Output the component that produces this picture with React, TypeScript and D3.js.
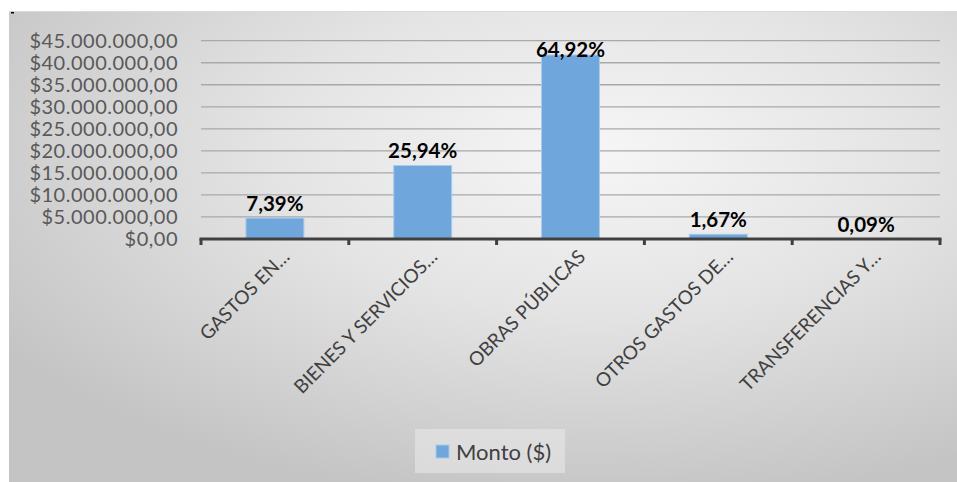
import React from "react";
import * as d3 from "d3";

const categories = [
  "GASTOS EN…",
  "BIENES Y SERVICIOS…",
  "OBRAS PÚBLICAS",
  "OTROS GASTOS DE…",
  "TRANSFERENCIAS Y…",
];
const values = [4750000, 16680000, 41760000, 1070000, 60000];
const percentLabels = ["7,39%", "25,94%", "64,92%", "1,67%", "0,09%"];
const yTicks = [0, 5e6, 10e6, 15e6, 20e6, 25e6, 30e6, 35e6, 40e6, 45e6];
const seriesName = "Monto ($)";

const W = 957;
const H = 482;
const FONT = "Lato, Carlito, Calibri, sans-serif";

function fmtMoney(v: number): string {
  const s = Math.round(v).toString().replace(/\B(?=(\d{3})+(?!\d))/g, ".");
  return "$" + s + ",00";
}

export default function App() {
  const plotLeft = 201;
  const plotRight = 940;
  const plotTop = 40.7;
  const plotBottom = 239;

  const x = d3.scaleBand<string>().domain(categories).range([plotLeft, plotRight]).paddingInner(0).paddingOuter(0);
  const y = d3.scaleLinear().domain([0, 45e6]).range([plotBottom, plotTop]);
  const bw = x.bandwidth() * 0.392;

  return (
    <svg
      width={W}
      height={H}
      style={{ position: "absolute", left: 0, top: 0, display: "block" }}
    >
      <defs>
        <radialGradient id="bg" cx="62%" cy="30%" r="75%" fx="62%" fy="30%">
          <stop offset="0%" stopColor="#f6f6f6" />
          <stop offset="45%" stopColor="#e4e4e4" />
          <stop offset="100%" stopColor="#c4c4c4" />
        </radialGradient>
      </defs>
      <rect x={0} y={0} width={W} height={H} fill="#ffffff" />
      <rect x={9} y={11} width={W - 9} height={H - 11} fill="url(#bg)" />
      <line x1={9} y1={11.5} x2={W} y2={11.5} stroke="#d9d9d9" strokeWidth={1} />
      <rect x={11} y={12} width={3} height={1.5} fill="#000" />

      {/* gridlines */}
      {yTicks.slice(1).map((t) => (
        <line
          key={"g" + t}
          x1={plotLeft}
          x2={plotRight}
          y1={y(t)}
          y2={y(t)}
          stroke="#a9a9a9"
          strokeWidth={1.3}
        />
      ))}

      {/* y labels */}
      {yTicks.map((t) => (
        <text
          key={"yl" + t}
          x={178}
          y={y(t)}
          dy="0.36em"
          textAnchor="end"
          fontFamily={FONT}
          fontSize={20}
          letterSpacing={0.5}
          fill="#595959"
        >
          {fmtMoney(t)}
        </text>
      ))}

      {/* bars */}
      {categories.map((c, i) => {
        const cx = (x(c) as number) + x.bandwidth() / 2;
        const top = y(values[i]);
        return (
          <rect
            key={"b" + c}
            x={cx - bw / 2}
            y={top}
            width={bw}
            height={plotBottom - top}
            fill="#6fa6dc"
            stroke="#a9cbec"
            strokeWidth={1}
          />
        );
      })}

      {/* axis */}
      <line x1={plotLeft - 1.5} x2={plotRight + 1.5} y1={plotBottom} y2={plotBottom} stroke="#404040" strokeWidth={3} />
      {categories.map((c) => (
        <line
          key={"t" + c}
          x1={x(c) as number}
          x2={x(c) as number}
          y1={plotBottom}
          y2={plotBottom + 6}
          stroke="#404040"
          strokeWidth={3}
        />
      ))}
      <line x1={plotRight} x2={plotRight} y1={plotBottom} y2={plotBottom + 6} stroke="#404040" strokeWidth={3} />

      {/* value labels */}
      {categories.map((c, i) => {
        const cx = (x(c) as number) + x.bandwidth() / 2;
        const ly = Math.max(y(values[i]) - 7, plotTop + 16);
        return (
          <text
            key={"v" + c}
            x={cx}
            y={ly}
            textAnchor="middle"
            fontFamily={FONT}
            fontWeight="bold"
            fontSize={20.5}
            fill="#000"
          >
            {percentLabels[i]}
          </text>
        );
      })}

      {/* category labels */}
      {categories.map((c) => {
        const cx = (x(c) as number) + x.bandwidth() / 2;
        return (
          <text
            key={"c" + c}
            transform={`translate(${cx + 16},${258}) rotate(-45)`}
            textAnchor="end"
            fontFamily={FONT}
            fontSize={19}
            fill="#404040"
          >
            {c}
          </text>
        );
      })}

      {/* legend */}
      <rect x={415} y={429} width={150} height={44} fill="#e8e8e8" opacity={0.6} />
      <rect x={436} y={445} width={13} height={13} fill="#6fa6dc" stroke="#a9cbec" strokeWidth={1} />
      <text x={456} y={452} dy="0.36em" fontFamily={FONT} fontSize={22} fill="#404040">
        {seriesName}
      </text>
    </svg>
  );
}
